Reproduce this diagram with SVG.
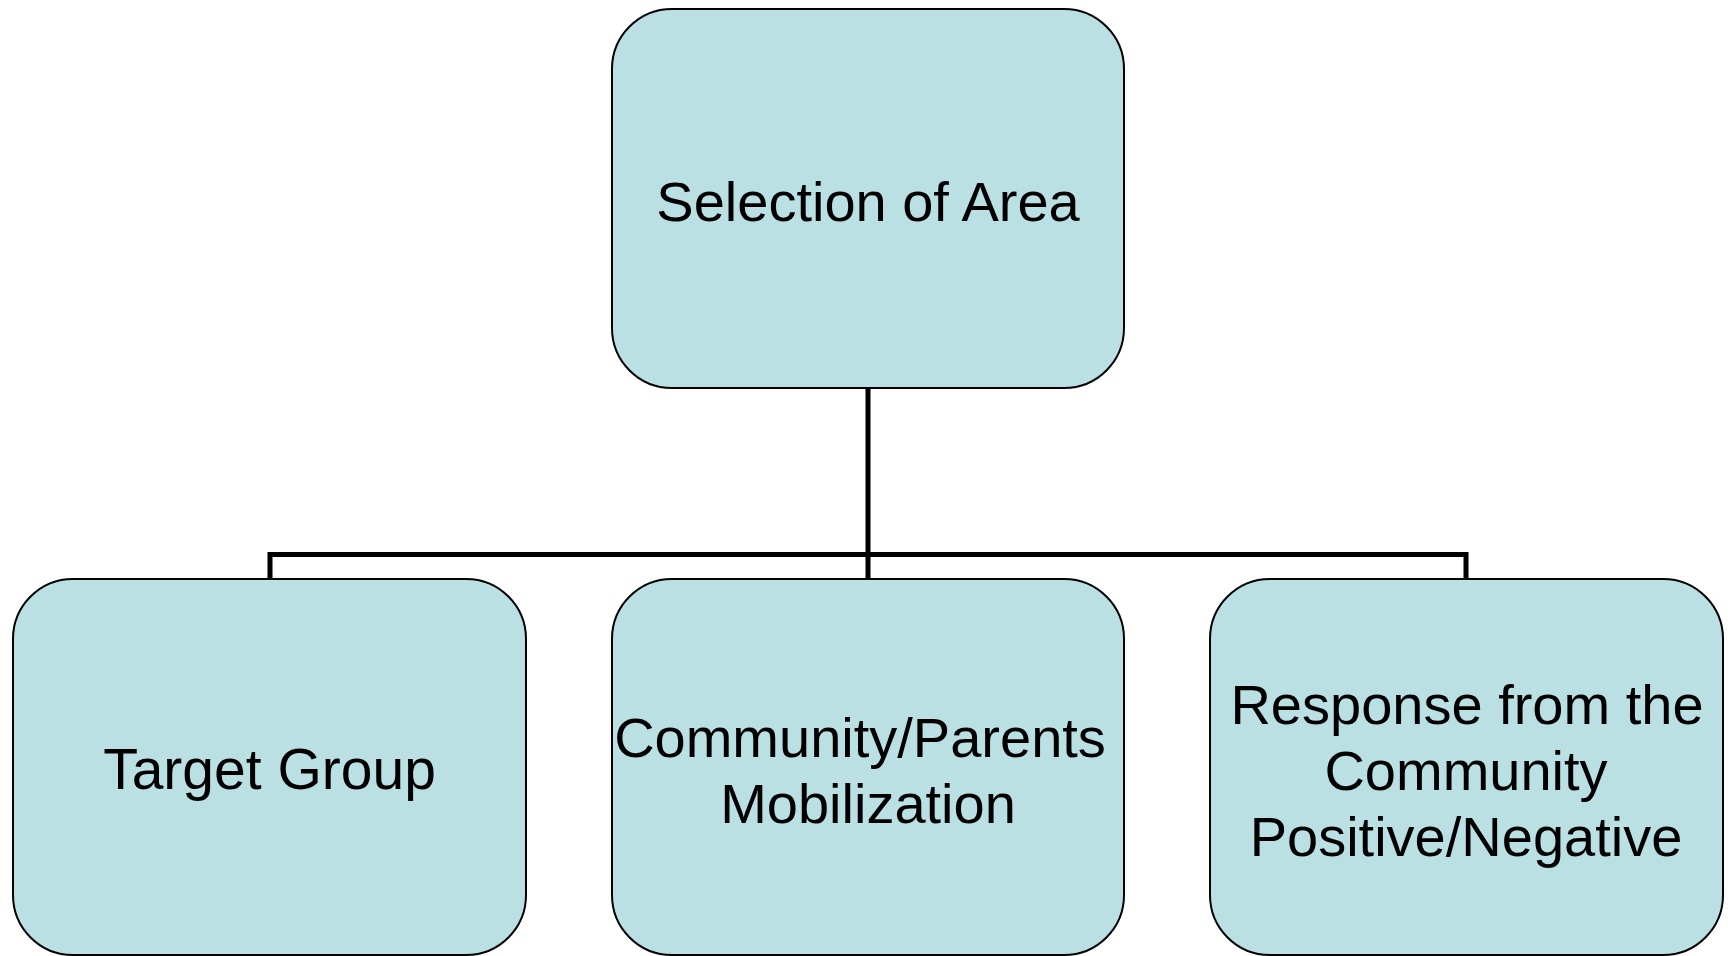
<svg xmlns="http://www.w3.org/2000/svg" width="1730" height="956" viewBox="0 0 1730 956">
<style>
.box{fill:#BAE0E4;stroke:#000;stroke-width:2}
.lbl{font-family:"Liberation Sans",Arial,sans-serif;font-size:56px;fill:#000;text-anchor:middle}
.conn{fill:none;stroke:#000;stroke-width:5;stroke-linejoin:miter;stroke-linecap:butt}
</style>
<rect width="1730" height="956" fill="#fff"/>
<g id="connectors">
<path class="conn" d="M868 388 V579"/>
<path class="conn" d="M270 579 V554.5 H1466 V579"/>
</g>
<g id="node-selection">
<rect class="box" x="612" y="9" width="512" height="379" rx="60" ry="60"/>
<text class="lbl" x="868" y="221">Selection of Area</text>
</g>
<g id="node-target">
<rect class="box" x="13" y="579" width="513" height="376" rx="60" ry="60"/>
<text class="lbl" x="269.5" y="789" style="font-size:57px">Target Group</text>
</g>
<g id="node-community">
<rect class="box" x="612" y="579" width="512" height="376" rx="60" ry="60"/>
<text class="lbl" x="860" y="757">Community/Parents</text>
<text class="lbl" x="868" y="823">Mobilization</text>
</g>
<g id="node-response">
<rect class="box" x="1210" y="579" width="513" height="376" rx="60" ry="60"/>
<text class="lbl" x="1467" y="724">Response from the</text>
<text class="lbl" x="1466" y="790">Community</text>
<text class="lbl" x="1466" y="856">Positive/Negative</text>
</g>
</svg>
